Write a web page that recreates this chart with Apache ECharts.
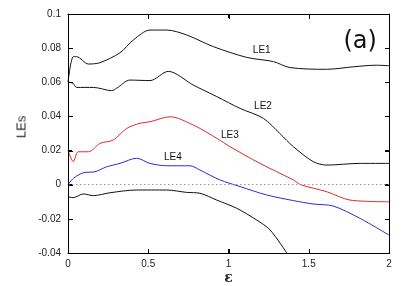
<!DOCTYPE html>
<html><head><meta charset="utf-8">
<script src="https://cdn.jsdelivr.net/npm/echarts@6/dist/echarts.min.js"></script>
<style>html,body{margin:0;padding:0;background:#fff}#wrap{position:relative;width:407px;height:286px}#c{width:407px;height:286px}
.t{position:absolute;white-space:nowrap;color:#111;transform:translate(-50%,-50%);line-height:1}
.f{position:absolute;box-sizing:border-box;border:1px solid #000;pointer-events:none}
.k{position:absolute;background:#000;pointer-events:none}</style>
</head><body><div id="wrap"><div id="c"></div></div>
<script>
const xTicks = [0, 0.5, 1, 1.5, 2];
const yTicks = [-0.04, -0.02, 0, 0.02, 0.04, 0.06, 0.08, 0.1];
const le1 = [[0,0.060],[0.033,0.075],[0.054,0.075],[0.127,0.0707],[0.2,0.0715],[0.324,0.0773],[0.407,0.0848],[0.511,0.0906],[0.615,0.0906],[0.74,0.0877],[0.905,0.0809],[1.113,0.0746],[1.28,0.0721],[1.383,0.0686],[1.61,0.0676],[1.78,0.0691],[1.92,0.070],[2,0.0697]];
const le2 = [[0,0.060],[0.03,0.0595],[0.054,0.057],[0.158,0.057],[0.272,0.0551],[0.303,0.0565],[0.386,0.0613],[0.511,0.061],[0.625,0.0664],[0.78,0.0584],[0.927,0.0516],[1.072,0.0447],[1.217,0.0389],[1.32,0.030],[1.404,0.0223],[1.528,0.0135],[1.612,0.0115],[1.819,0.0125],[2,0.0125]];
const le3 = [[0,0.0203],[0.033,0.0135],[0.064,0.0193],[0.127,0.0193],[0.2,0.0242],[0.282,0.0262],[0.366,0.033],[0.449,0.036],[0.511,0.0369],[0.636,0.0398],[0.78,0.035],[0.927,0.0272],[1.009,0.0223],[1.196,0.0125],[1.404,0.0028],[1.45,0.0],[1.612,-0.0041],[1.757,-0.009],[2,-0.010]];
const le4 = [[0,0],[0.033,0.0037],[0.095,0.0070],[0.168,0.0076],[0.241,0.0105],[0.324,0.0125],[0.428,0.0155],[0.511,0.0125],[0.615,0.0111],[0.76,0.0111],[0.822,0.0086],[0.947,0.0028],[1.072,-0.0011],[1.238,-0.006],[1.404,-0.0093],[1.528,-0.0113],[1.653,-0.0125],[1.819,-0.0197],[2,-0.0295]];
const le5 = [[0,-0.0070],[0.033,-0.0076],[0.095,-0.0054],[0.158,-0.0064],[0.262,-0.0047],[0.428,-0.0031],[0.615,-0.0031],[0.74,-0.0045],[0.822,-0.005],[0.927,-0.009],[1.051,-0.0138],[1.176,-0.0207],[1.259,-0.0265],[1.363,-0.040]];
const labelNames = ['LE1','LE2','LE3','LE4','(a)'];
const labelX = [1.207,1.215,1.009,0.654,1.82];
const labelY = [0.0789,0.0461,0.0291,0.0162,0.0848];
const xName = 'ε';
const yName = 'LEs';

const font = 'Liberation Sans';
function line(data,color){return {type:'line',data:data,showSymbol:false,smooth:0.3,lineStyle:{color:color,width:1},silent:true,z:3};}
function tk(){return {show:true,inside:true,length:4,lineStyle:{color:'#000',width:1}};}
function al(){return {show:true,onZero:false,lineStyle:{color:'#000',width:1}};}
const xMin = xTicks[0], xMax = xTicks[xTicks.length-1];
const yMin = yTicks[0], yMax = yTicks[yTicks.length-1];
const chart = echarts.init(document.getElementById('c'));
chart.setOption({
  animation:false,
  grid:{left:68,right:18,top:14,bottom:33},
  xAxis:[
    {type:'value',min:xMin,max:xMax,interval:0.5,position:'bottom',
     axisLine:al(),axisTick:tk(),
     axisLabel:{color:'#222',fontFamily:font,fontSize:10,margin:6,formatter:v=>String(v)},splitLine:{show:false}},
    {type:'value',min:xMin,max:xMax,interval:0.5,position:'top',
     axisLine:al(),axisTick:tk(),
     axisLabel:{show:false},splitLine:{show:false}}
  ],
  yAxis:[
    {type:'value',min:yMin,max:yMax,interval:0.02,position:'left',
     axisLine:al(),axisTick:tk(),
     axisLabel:{color:'#222',fontFamily:font,fontSize:10,margin:7,formatter:v=>String(parseFloat(Number(v).toFixed(2)))},splitLine:{show:false}},
    {type:'value',min:yMin,max:yMax,interval:0.02,position:'right',
     axisLine:al(),axisTick:tk(),
     axisLabel:{show:false},splitLine:{show:false}}
  ],
  series:[
    Object.assign(line(le1,'#111'),{markLine:{silent:true,symbol:'none',label:{show:false},lineStyle:{color:'#999',type:[1.5,2.5],width:1},data:[{yAxis:0}]}}),
    line(le2,'#111'),
    line(le3,'#e0282c'),
    line(le4,'#2b2bd6'),
    line(le5,'#111')
  ]
});
const wrap = document.getElementById('wrap');
function addText(txt, x, y, css){
  const d = document.createElement('div');
  d.className = 't';
  d.textContent = txt;
  d.style.left = x + 'px';
  d.style.top = y + 'px';
  d.style.cssText += css;
  wrap.appendChild(d);
}
function addBox(cls, l, t, w, h){
  const d = document.createElement('div');
  d.className = cls;
  d.style.left = l + 'px'; d.style.top = t + 'px';
  d.style.width = w + 'px'; d.style.height = h + 'px';
  wrap.appendChild(d);
}
// frame and inward ticks, placed through the chart's own scales
const p0 = chart.convertToPixel({gridIndex:0}, [xMin, yMax]);
const p1 = chart.convertToPixel({gridIndex:0}, [xMax, yMin]);
const L = Math.round(p0[0]), T = Math.round(p0[1]), R = Math.round(p1[0]), B = Math.round(p1[1]);
addBox('f', L, T, R - L + 1, B - T + 1);
xTicks.forEach(v=>{
  const px = Math.round(chart.convertToPixel({gridIndex:0}, [v, yMin])[0]);
  if (px <= L || px >= R) return;
  addBox('k', px, B - 4, 1, 4);
  addBox('k', px, T + 1, 1, 4);
});
yTicks.forEach(v=>{
  const py = Math.round(chart.convertToPixel({gridIndex:0}, [xMin, v])[1]);
  if (py <= T || py >= B) return;
  addBox('k', L + 1, py, 4, 1);
  addBox('k', R - 4, py, 4, 1);
});
labelNames.forEach((n,i)=>{
  const p = chart.convertToPixel({gridIndex:0}, [labelX[i], labelY[i]]);
  if (n === '(a)') addText(n, p[0], p[1], 'font-family:"DejaVu Sans";font-size:24px;');
  else addText(n, p[0], p[1], 'font-family:"Liberation Sans";font-size:10px;');
});
addText(xName, (L + R)/2, B + 24, 'font-family:"DejaVu Serif";font-weight:bold;font-size:14px;color:#222;');
addText(yName, L - 47, (T + B)/2 - 7, 'font-family:"Liberation Sans";font-size:13px;color:#222;transform:translate(-50%,-50%) rotate(-90deg);');
</script></body></html>
